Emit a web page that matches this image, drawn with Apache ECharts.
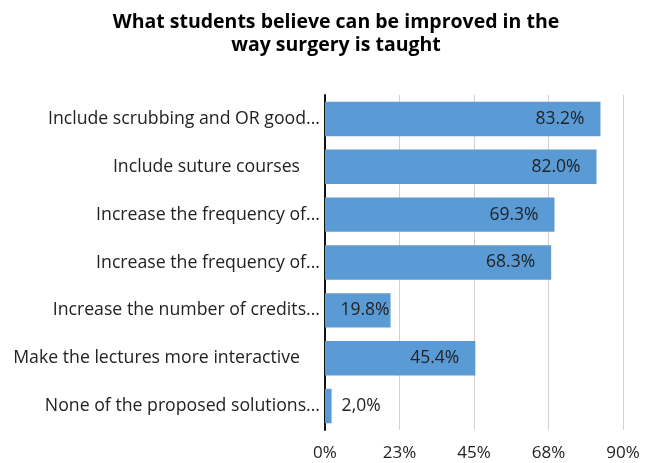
<!DOCTYPE html>
<html>
<head>
<meta charset="utf-8">
<script src="https://cdn.jsdelivr.net/npm/echarts@6/dist/echarts.min.js"></script>
<style>html,body{margin:0;padding:0;background:#fff}#c{width:654px;height:463px}</style>
</head>
<body>
<div id="c"></div>
<script>
const categories = [
  "Include scrubbing and OR good...",
  "Include suture courses",
  "Increase the frequency of...",
  "Increase the frequency of...",
  "Increase the number of credits...",
  "Make the lectures more interactive",
  "None of the proposed solutions..."
];
const values = [83.2, 82.0, 69.3, 68.3, 19.8, 45.4, 2.0];
const valueLabels = ["83.2%", "82.0%", "69.3%", "68.3%", "19.8%", "45.4%", "2,0%"];
const paddedLabels = [1, 5];
const tickValues = [0, 22.5, 45, 67.5, 90];

const FONT = "'Open Sans', 'Noto Sans', sans-serif";
const chart = echarts.init(document.getElementById('c'), null, {renderer: 'canvas'});

const seriesData = values.map((v, i) => {
  let label;
  if (v < 5) label = {position: 'right', distance: 10};
  else if (v < 25) label = {position: 'insideRight', distance: 1};
  else label = {position: 'insideRight', distance: 16};
  return {value: v, label: Object.assign({formatter: valueLabels[i]}, label)};
});

chart.setOption({
  animation: false,
  title: {
    text: 'What students believe can be improved in the\nway surgery is taught',
    left: 331, textAlign: 'center', top: 6,
    textStyle: {fontFamily: FONT, fontWeight: 'bold', fontSize: 19.5, color: '#000', lineHeight: 23}
  },
  grid: {left: 325, right: 31, top: 95, bottom: 33, containLabel: false},
  xAxis: {
    type: 'value', min: 0, max: 90, interval: 22.5,
    axisLine: {show: false}, axisTick: {show: false},
    splitLine: {show: true, lineStyle: {color: '#d0d0d0', width: 1}},
    axisLabel: {
      fontFamily: FONT, fontSize: 17, color: '#222', margin: 15,
      formatter: v => Math.round(v) + '%'
    }
  },
  yAxis: {
    type: 'category', data: categories, inverse: true,
    axisLine: {show: true, lineStyle: {color: '#111', width: 2}},
    axisTick: {show: false},
    axisLabel: {
      fontFamily: FONT, fontSize: 17.7, color: '#222', margin: 5,
      formatter: (v, i) => paddedLabels.includes(i) ? v + '{s|}' : v,
      rich: {s: {width: 20}}
    }
  },
  series: [{
    type: 'bar', data: seriesData, barCategoryGap: '28%',
    itemStyle: {color: '#5B9BD5'},
    label: {show: true, fontFamily: FONT, fontSize: 17.5, color: '#222'}
  }]
});
</script>
</body>
</html>
